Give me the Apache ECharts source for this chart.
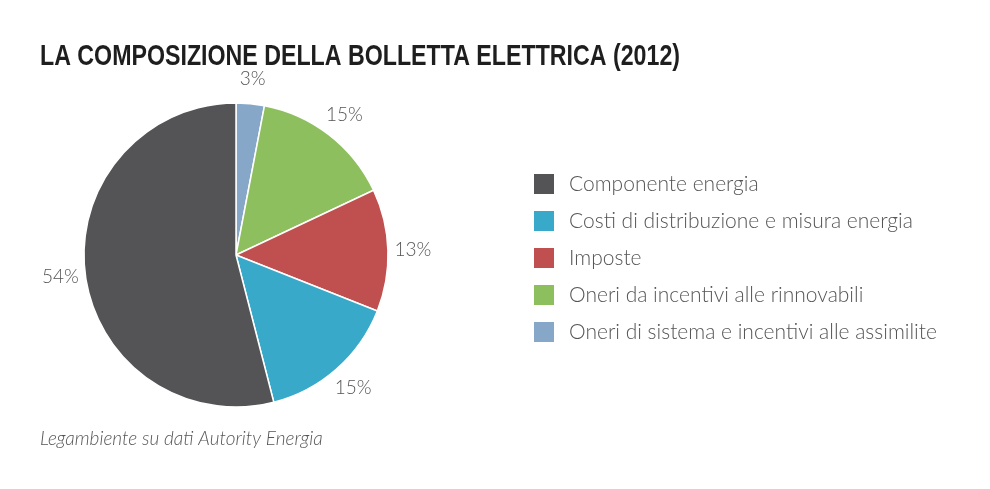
<!DOCTYPE html>
<html>
<head>
<meta charset="utf-8">
<script src="https://cdn.jsdelivr.net/npm/echarts@6/dist/echarts.min.js"></script>
<style>
html,body{margin:0;padding:0;background:#fff;}
#chart{width:990px;height:489px;}
</style>
</head>
<body>
<div id="chart"></div>
<script>
// fette in senso orario partendo dall'alto
var categories = ['Oneri di sistema e incentivi alle assimilite', 'Oneri da incentivi alle rinnovabili', 'Imposte', 'Costi di distribuzione e misura energia', 'Componente energia'];
var values = [3, 15, 13, 15, 54];
var colors = ['#87a7c9', '#8dbf5f', '#c0504f', '#39a9c9', '#545457'];
var legendOrder = ['Componente energia', 'Costi di distribuzione e misura energia', 'Imposte', 'Oneri da incentivi alle rinnovabili', 'Oneri di sistema e incentivi alle assimilite'];
var titolo = 'LA COMPOSIZIONE DELLA BOLLETTA ELETTRICA (2012)';
var fonte = 'Legambiente su dati Autority Energia';

//torta bolletta
function bolletta(){
    var chart = echarts.init(document.getElementById('chart'));
    var fetta = [], etichette = [];
    for (var i = 0; i < values.length; i++) {
        fetta.push({value: values[i], name: categories[i], itemStyle: {color: colors[i]}});
        etichette.push({value: values[i], name: categories[i]});
    }
    var font = 'Lato, "Open Sans", sans-serif';
    var fontTitolo = 'bold 30px "Liberation Sans", Arial, sans-serif';
    // titolo stretto: si schiaccia orizzontalmente per farlo stare in 640px
    var ctx = document.createElement('canvas').getContext('2d');
    ctx.font = fontTitolo;
    var scala = 640 / ctx.measureText(titolo).width;
    var option = {
        animation: false,
        title: {
            text: fonte,
            left: 35, top: 424,
            textStyle: {fontFamily: font, fontStyle: 'italic', fontWeight: 300, fontSize: 19, color: '#555'}
        },
        graphic: [{
            type: 'text',
            x: 40, y: 42,
            scaleX: scala,
            style: {text: titolo, font: fontTitolo, fill: '#1e1e1e', verticalAlign: 'top'}
        }],
        legend: {
            orient: 'vertical',
            left: 527, top: 167,
            icon: 'rect',
            itemWidth: 22, itemHeight: 22, itemGap: 13,
            data: legendOrder,
            selectedMode: false,
            textStyle: {fontFamily: font, fontWeight: 300, fontSize: 21, lineHeight: 22, color: '#555', padding: [0, 0, 0, 9]}
        },
        series: [{
            type: 'pie',
            center: [236, 255],
            radius: 152,
            startAngle: 90,
            clockwise: true,
            silent: true,
            itemStyle: {borderColor: '#fff', borderWidth: 1.5},
            label: {show: false},
            labelLine: {show: false},
            data: fetta
        }, {
            type: 'pie',
            center: [236, 255],
            radius: [152, 196],
            startAngle: 90,
            clockwise: true,
            silent: true,
            itemStyle: {color: 'rgba(0,0,0,0)'},
            label: {show: true, position: 'inside', formatter: '{c}%', fontFamily: font, fontWeight: 300, fontSize: 19, color: '#555'},
            labelLine: {show: false},
            data: etichette
        }]
    };
    chart.setOption(option);
}
bolletta();
</script>
</body>
</html>
